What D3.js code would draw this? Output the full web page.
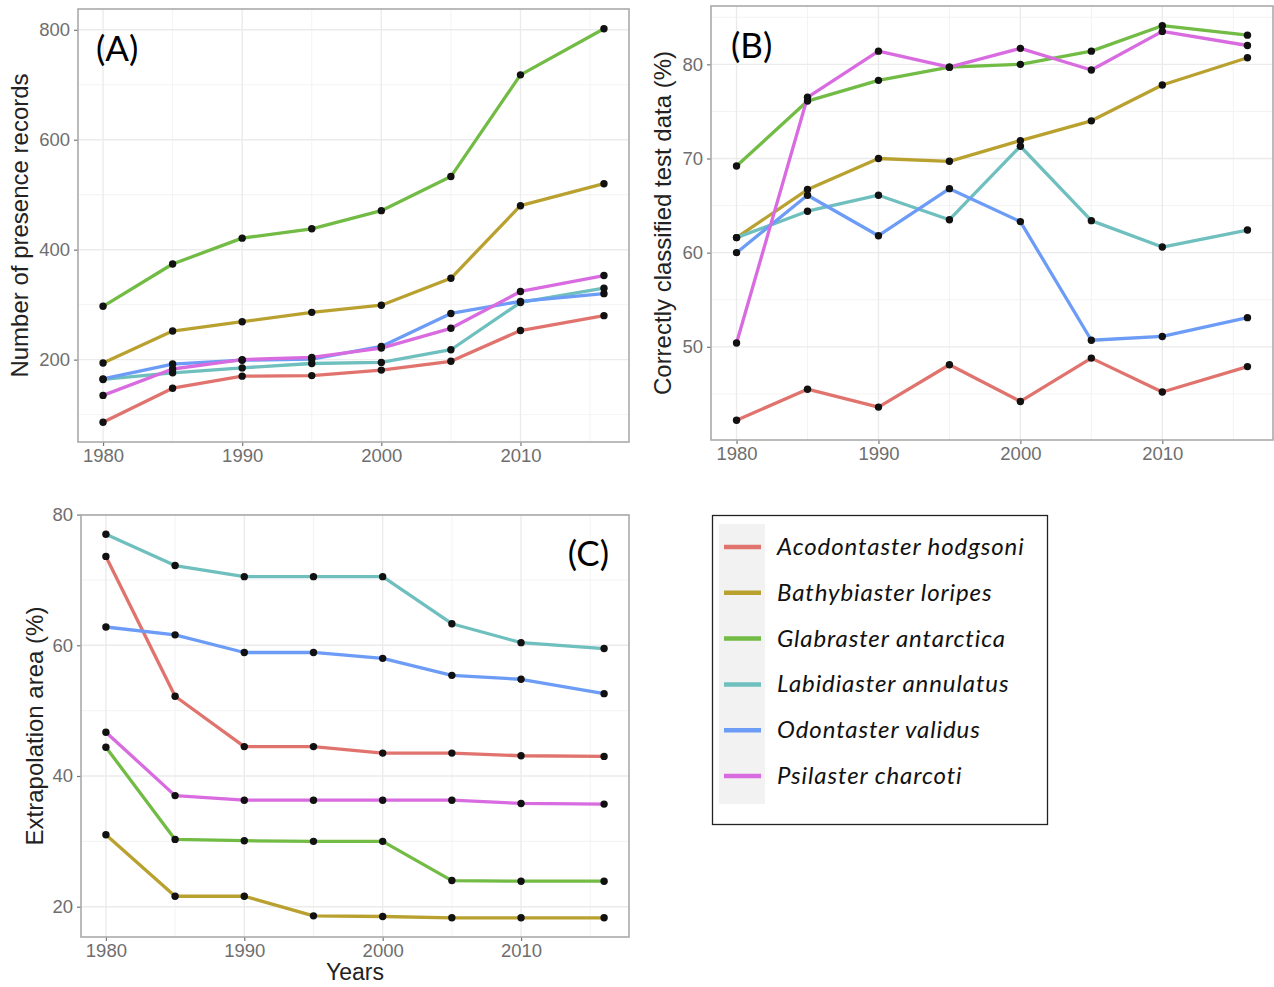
<!DOCTYPE html>
<html>
<head>
<meta charset="utf-8">
<script src="https://cdn.jsdelivr.net/npm/d3@7"></script>
<style>
  html, body { margin: 0; padding: 0; background: #fff; }
  svg { display: block; }
</style>
</head>
<body>
<svg id="chart" width="1274" height="987"></svg>
<script>
// ---------------- DATA ----------------
const years = [1980, 1985, 1990, 1995, 2000, 2005, 2010, 2016];
const species = ["Acodontaster hodgsoni", "Bathybiaster loripes", "Glabraster antarctica",
                 "Labidiaster annulatus", "Odontaster validus", "Psilaster charcoti"];
const colors = ["#e0736d", "#b9a130", "#72bb45", "#6fbfbf", "#6c9cf6", "#d86be0"];

// Panel A: number of presence records
const recAcodontaster = [86, 148, 170, 171, 181, 197, 253, 280];
const recBathybiaster = [194, 252, 269, 286, 299, 348, 480, 520];
const recGlabraster   = [297, 374, 421, 438, 471, 533, 718, 802];
const recLabidiaster  = [164, 176, 185, 193, 195, 218, 304, 330];
const recOdontaster   = [165, 192, 199, 201, 224, 284, 306, 320];
const recPsilaster    = [135, 183, 200, 204, 221, 257, 324, 353];

// Panel B: correctly classified test data (%)
const ccAcodontaster = [42.2, 45.5, 43.6, 48.1, 44.2, 48.8, 45.2, 47.9];
const ccBathybiaster = [61.6, 66.7, 70.0, 69.7, 71.9, 74.0, 77.8, 80.7];
const ccGlabraster   = [69.2, 76.1, 78.3, 79.7, 80.0, 81.4, 84.1, 83.1];
const ccLabidiaster  = [61.6, 64.4, 66.1, 63.5, 71.3, 63.4, 60.6, 62.4];
const ccOdontaster   = [60.0, 66.1, 61.8, 66.8, 63.3, 50.7, 51.1, 53.1];
const ccPsilaster    = [50.4, 76.5, 81.4, 79.7, 81.7, 79.4, 83.5, 82.0];

// Panel C: extrapolation area (%)
const exAcodontaster = [73.6, 52.2, 44.5, 44.5, 43.5, 43.5, 43.1, 43.0];
const exBathybiaster = [31.0, 21.6, 21.6, 18.6, 18.5, 18.3, 18.3, 18.3];
const exGlabraster   = [44.4, 30.3, 30.1, 30.0, 30.0, 24.0, 23.9, 23.9];
const exLabidiaster  = [77.0, 72.2, 70.5, 70.5, 70.5, 63.3, 60.4, 59.5];
const exOdontaster   = [62.8, 61.6, 58.9, 58.9, 58.0, 55.4, 54.8, 52.6];
const exPsilaster    = [46.7, 37.0, 36.3, 36.3, 36.3, 36.3, 35.8, 35.7];

const xTicks = [1980, 1990, 2000, 2010];
const xMinor = [1985, 1995, 2005, 2015];
const yTicksA = [200, 400, 600, 800];
const yMinorA = [100, 300, 500, 700];
const yTicksB = [50, 60, 70, 80];
const yMinorB = [45, 55, 65, 75, 85];
const yTicksC = [20, 40, 60, 80];
const yMinorC = [30, 50, 70];

const panels = [
  { label: "(A)", ytitle: "Number of presence records",
    series: [recAcodontaster, recBathybiaster, recGlabraster, recLabidiaster, recOdontaster, recPsilaster],
    yTicks: yTicksA, yMinor: yMinorA,
    box: { x0: 78, x1: 629, y0: 9, y1: 442 }, labelPos: { x: 96, y: 61, anchor: "start" },
    ytitleX: 28, xtitle: null },
  { label: "(B)", ytitle: "Correctly classified test data (%)",
    series: [ccAcodontaster, ccBathybiaster, ccGlabraster, ccLabidiaster, ccOdontaster, ccPsilaster],
    yTicks: yTicksB, yMinor: yMinorB,
    box: { x0: 711, x1: 1273, y0: 6, y1: 440 }, labelPos: { x: 731, y: 58, anchor: "start" },
    ytitleX: 671, xtitle: null },
  { label: "(C)", ytitle: "Extrapolation area (%)",
    series: [exAcodontaster, exBathybiaster, exGlabraster, exLabidiaster, exOdontaster, exPsilaster],
    yTicks: yTicksC, yMinor: yMinorC,
    box: { x0: 81, x1: 629, y0: 515, y1: 937 }, labelPos: { x: 609, y: 566, anchor: "end" },
    ytitleX: 43, xtitle: "Years" }
];

const svg = d3.select("#chart");
const tickFont = "'Liberation Sans', Arial, sans-serif";
const labelFont = "Lato, 'Open Sans', sans-serif";

function expandDomain(vals) {
  const mn = d3.min(vals), mx = d3.max(vals);
  const pad = (mx - mn) * 0.05;
  return [mn - pad, mx + pad];
}

panels.forEach(p => {
  const b = p.box;
  const x = d3.scaleLinear().domain(expandDomain(years)).range([b.x0, b.x1]);
  const y = d3.scaleLinear().domain(expandDomain(p.series.flat())).range([b.y1, b.y0]);
  const g = svg.append("g");

  g.append("rect").attr("x", b.x0).attr("y", b.y0)
    .attr("width", b.x1 - b.x0).attr("height", b.y1 - b.y0).attr("fill", "#fff");

  // minor grid
  g.selectAll(".vminor").data(xMinor.filter(v => x(v) > b.x0 && x(v) < b.x1)).join("line")
    .attr("x1", d => x(d)).attr("x2", d => x(d)).attr("y1", b.y0).attr("y2", b.y1)
    .attr("stroke", "#f2f2f2").attr("stroke-width", 0.9);
  g.selectAll(".hminor").data(p.yMinor.filter(v => y(v) > b.y0 && y(v) < b.y1)).join("line")
    .attr("x1", b.x0).attr("x2", b.x1).attr("y1", d => y(d)).attr("y2", d => y(d))
    .attr("stroke", "#f2f2f2").attr("stroke-width", 0.9);
  // major grid
  g.selectAll(".vmajor").data(xTicks).join("line")
    .attr("x1", d => x(d)).attr("x2", d => x(d)).attr("y1", b.y0).attr("y2", b.y1)
    .attr("stroke", "#ebebeb").attr("stroke-width", 1.4);
  g.selectAll(".hmajor").data(p.yTicks.filter(v => y(v) >= b.y0 - 0.5 && y(v) <= b.y1)).join("line")
    .attr("x1", b.x0).attr("x2", b.x1).attr("y1", d => y(d)).attr("y2", d => y(d))
    .attr("stroke", "#ebebeb").attr("stroke-width", 1.4);

  // axes
  const xAxis = d3.axisBottom(x).tickValues(xTicks).tickFormat(d3.format("d")).tickSize(4).tickPadding(3);
  const yAxis = d3.axisLeft(y).tickValues(p.yTicks).tickFormat(d3.format("d")).tickSize(4).tickPadding(4);
  const gx = g.append("g").attr("transform", `translate(0,${b.y1})`).call(xAxis);
  const gy = g.append("g").attr("transform", `translate(${b.x0},0)`).call(yAxis);
  [gx, gy].forEach(ax => {
    ax.select(".domain").remove();
    ax.selectAll(".tick line").attr("stroke", "#777").attr("stroke-width", 1.2);
    ax.selectAll(".tick text").attr("fill", "#6e6e6e").style("font-family", tickFont).style("font-size", "18.5px");
  });

  // lines
  const line = d3.line().x((d, i) => x(years[i])).y(d => y(d));
  p.series.forEach((s, k) => {
    g.append("path").datum(s).attr("d", line)
      .attr("fill", "none").attr("stroke", colors[k]).attr("stroke-width", 3.3)
      .attr("stroke-linejoin", "round");
  });
  // points
  p.series.forEach((s, k) => {
    g.selectAll(null).data(s).join("circle")
      .attr("cx", (d, i) => x(years[i])).attr("cy", d => y(d)).attr("r", 3.7)
      .attr("fill", "#111");
  });

  // border
  g.append("rect").attr("x", b.x0).attr("y", b.y0)
    .attr("width", b.x1 - b.x0).attr("height", b.y1 - b.y0)
    .attr("fill", "none").attr("stroke", "#aaa").attr("stroke-width", 1.6);

  // panel label
  g.append("text").attr("x", p.labelPos.x).attr("y", p.labelPos.y)
    .attr("text-anchor", p.labelPos.anchor)
    .style("font-family", labelFont).style("font-size", "35px").attr("fill", "#000")
    .text(p.label);

  // y title
  g.append("text")
    .attr("transform", `translate(${p.ytitleX},${(b.y0 + b.y1) / 2}) rotate(-90)`)
    .attr("text-anchor", "middle")
    .style("font-family", tickFont).style("font-size", "24px").attr("fill", "#222")
    .text(p.ytitle);

  if (p.xtitle) {
    g.append("text").attr("x", (b.x0 + b.x1) / 2).attr("y", 980)
      .attr("text-anchor", "middle")
      .style("font-family", tickFont).style("font-size", "23px").attr("fill", "#222")
      .text(p.xtitle);
  }
});

// ---------------- LEGEND ----------------
const leg = svg.append("g");
leg.append("rect").attr("x", 712.5).attr("y", 515.5).attr("width", 335).attr("height", 309)
  .attr("fill", "#fff").attr("stroke", "#222").attr("stroke-width", 1.3);
leg.append("rect").attr("x", 719).attr("y", 524).attr("width", 46).attr("height", 280)
  .attr("fill", "#f2f2f2");
const legY = d3.scalePoint().domain(species).range([547, 776]);
species.forEach((sp, k) => {
  leg.append("line").attr("x1", 724).attr("x2", 761)
    .attr("y1", legY(sp)).attr("y2", legY(sp))
    .attr("stroke", colors[k]).attr("stroke-width", 4.5);
  leg.append("text").attr("x", 777).attr("y", legY(sp) + 8)
    .style("font-family", labelFont).style("font-style", "italic").style("font-size", "24px")
    .style("letter-spacing", "0.9px")
    .attr("fill", "#111").text(sp);
});
</script>
</body>
</html>
